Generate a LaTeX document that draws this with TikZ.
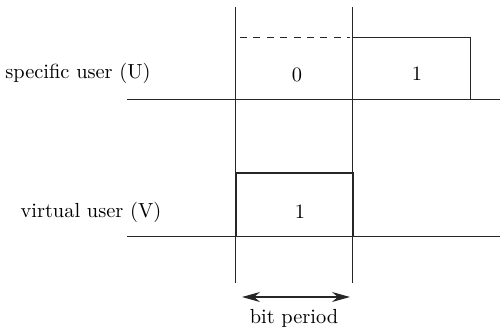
\documentclass[tikz,border=0pt]{standalone}
\usetikzlibrary{arrows.meta}
\begin{document}
\begin{tikzpicture}[x=0.5pt,y=-0.5pt,
  ln/.style={line width=0.5pt,draw=black!85},
  lbl/.style={font=\fontsize{10.2}{12}\selectfont,inner sep=0pt},
  bit/.style={font=\fontsize{10.2}{12}\selectfont,inner sep=0pt}]
\useasboundingbox (0,0) rectangle (500,329);
% reference points
\coordinate (vaT) at (236,7);  \coordinate (vaB) at (236,283);
\coordinate (vbT) at (353,7);  \coordinate (vbB) at (353,283);
\coordinate (uL) at (127,99);  \coordinate (uR) at (500,99);
\coordinate (wL) at (127,236); \coordinate (wR) at (500,236);
\coordinate (dL) at (240,37);  \coordinate (dR) at (350,37);
\coordinate (bxA) at (353,37); \coordinate (bxB) at (471,37); \coordinate (bxC) at (471,99);
\coordinate (vxA) at (236,173); \coordinate (vxB) at (353,173);
% vertical bit boundaries
\draw[ln] (vaT) -- (vaB);
\draw[ln] (vbT) -- (vbB);
% baselines
\draw[ln] (uL) -- (uR);
\draw[ln] (wL) -- (wR);
% specific user signal
\draw[ln,dash pattern=on 3.5pt off 3.2pt] (dL) -- (dR);
\draw[ln] (bxA) -- (bxB) -- (bxC);
% virtual user signal
\draw[ln,line width=0.75pt] (236,236) -- (vxA) -- (vxB) -- (353,236);
% labels
\node[lbl] (su) at (78,73) {specific user (U)};
\node[lbl] (vu) at (91,212) {virtual user (V)};
\node[bit] (b0) at (297,75) {0};
\node[bit] (b1) at (417,74) {1};
\node[bit] (b2) at (300,212) {1};
% bit period
\coordinate (aL) at (242,297); \coordinate (aR) at (350,297);
\draw[ln,line width=0.6pt,{Stealth[length=9pt,width=5pt]}-{Stealth[length=9pt,width=5pt]}] (aL) -- (aR);
\node[lbl] (bp) at (294,318) {bit period};
\end{tikzpicture}
\end{document}
